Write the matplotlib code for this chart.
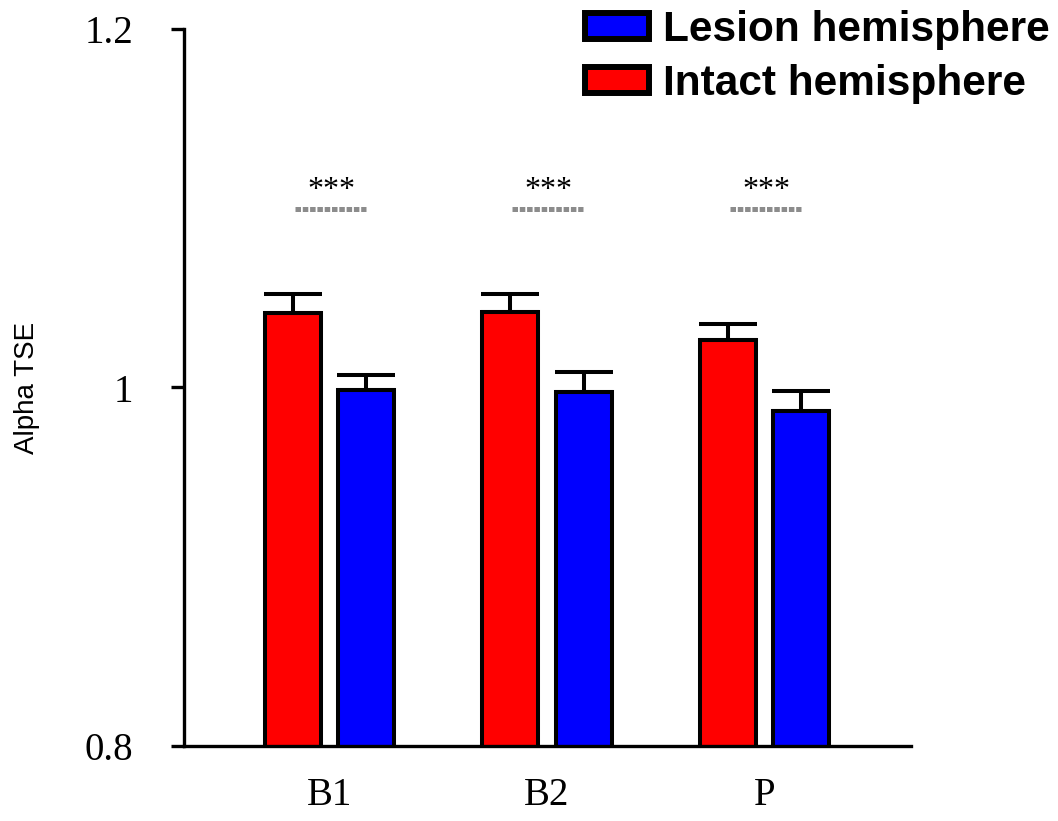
import matplotlib
matplotlib.use("Agg")
import matplotlib.pyplot as plt
from matplotlib.patches import Patch
import numpy as np

# Data
categories = ["B1", "B2", "P"]
intact_mean = [1.0416, 1.0421, 1.0265]
intact_err = [0.0106, 0.0100, 0.0089]
lesion_mean = [0.9986, 0.9975, 0.9869]
lesion_err = [0.0084, 0.0110, 0.0111]
significance = ["***", "***", "***"]
sig_level = 1.0996
yticks = [0.8, 1.0, 1.2]
ytick_labels = ["0.8", "1", "1.2"]

RED = "#ff0000"
BLUE = "#0000ff"
SERIF = "Liberation Serif"
SANS = "Liberation Sans"

fig = plt.figure(figsize=(10.58, 8.21), dpi=100)
ax = fig.add_axes([184 / 1058, 1 - 746 / 821, (911 - 184) / 1058, (746 - 29) / 821])

x = np.arange(len(categories))
width = 0.2575
offset = 0.169
edge_lw = 2.9

ax.bar(x - offset, intact_mean, width, color=RED, edgecolor="black",
       linewidth=edge_lw, zorder=2)
ax.bar(x + offset, lesion_mean, width, color=BLUE, edgecolor="black",
       linewidth=edge_lw, zorder=2)

err_kw = dict(fmt="none", ecolor="black", elinewidth=2.9, capsize=20.9,
              capthick=2.9, zorder=3)
ax.errorbar(x - offset, intact_mean,
            yerr=[np.zeros(len(x)), intact_err], **err_kw)
ax.errorbar(x + offset, lesion_mean,
            yerr=[np.zeros(len(x)), lesion_err], **err_kw)

# Significance markers above each group
for xi, s in zip(x, significance):
    ax.plot([xi - 0.160, xi + 0.168], [sig_level, sig_level], color="#8c8c8c",
            linewidth=3.6, linestyle=(0, (1.1, 0.36)), solid_capstyle="butt",
            dash_capstyle="butt", zorder=3)
    ax.text(xi + 0.007, 1.1057, s, ha="center", va="baseline",
            fontsize=23, family=SERIF, color="black")

ax.set_xlim(-0.669, 2.674)
ax.set_ylim(0.8, 1.2)
ax.set_xticks(x)
ax.set_xticklabels(categories, family=SERIF, fontsize=28)
ax.set_yticks(yticks)
ax.set_yticklabels(ytick_labels, family=SERIF, fontsize=28)
ax.tick_params(axis="x", length=0, pad=22)
ax.tick_params(axis="y", length=9.4, width=2.4, pad=27)

for side in ["top", "right"]:
    ax.spines[side].set_visible(False)
for side in ["left", "bottom"]:
    ax.spines[side].set_linewidth(2.4)

ax.set_ylabel("Alpha TSE", family=SANS, fontsize=20, labelpad=32)

handles = [Patch(facecolor=BLUE, edgecolor="black", linewidth=4.3),
           Patch(facecolor=RED, edgecolor="black", linewidth=4.3)]
labels = ["Lesion hemisphere", "Intact hemisphere"]
fig.legend(handles, labels, loc="upper left",
           bbox_to_anchor=(585 / 1058, 1 - 10 / 821),
           frameon=False, borderpad=0, borderaxespad=0,
           prop={"family": SANS, "weight": "bold", "size": 30.5},
           handlelength=1.5, handleheight=0.58, handletextpad=0.33,
           labelspacing=0.33)

fig.savefig("out.png", dpi=100)
